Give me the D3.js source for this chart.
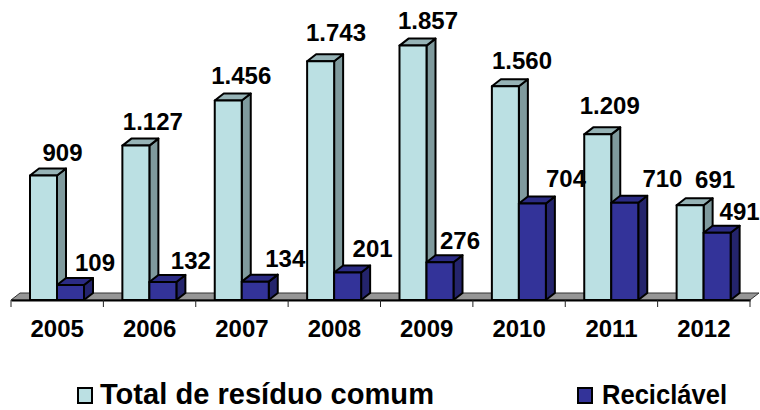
<!DOCTYPE html>
<html>
<head>
<meta charset="utf-8">
<script src="https://cdn.jsdelivr.net/npm/d3@7"></script>
<style>
	body { margin: 0; background: #fff; }
	text { font-family: "Liberation Sans", Arial, sans-serif; font-weight: bold; fill: #000; }
</style>
</head>
<body>
<div id="chart-area"></div>
<script>
// Data
const years = ["2005", "2006", "2007", "2008", "2009", "2010", "2011", "2012"];
const seriesNames = ["Total de resíduo comum", "Reciclável"];
const totalComum = [909, 1127, 1456, 1743, 1857, 1560, 1209, 691];
const reciclavel = [109, 132, 134, 201, 276, 704, 710, 491];

// SVG Size
const width = 760,
	height = 410,
	baseY = 300,
	depthX = 9,
	depthY = 7;

// hand placed data labels in the original: [dx from bar centre, dy above bar top]
const labelNudge = [
	[[19, 14.5], [17, 15.6], [13, 16.5], [15.4, 20], [15, 16.6], [16.6, 17], [12, 20], [25, 17]],
	[[24.5, 14], [28, 13], [30, 14.6], [25, 15.5], [20, 13], [33.6, 16.6], [37.7, 15.7], [22.5, 12.7]]
];

const colors = [
	{ front: "#BBE0E3", side: "#7F9A9D", top: "#96B3B6" },
	{ front: "#333399", side: "#24246C", top: "#2B2B84" }
];

const fmt = d3.formatLocale({ decimal: ",", thousands: ".", grouping: [3], currency: ["", ""] }).format(",d");

const x = d3.scaleBand().domain(years).range([11, 750]);
const inner = d3.scaleBand().domain([0, 1]).range([19, 73]);
const y = d3.scaleLinear().domain([0, 2000]).range([baseY, 26]);

const svg = d3.select("#chart-area")
	.append("svg")
	.attr("width", width)
	.attr("height", height);

// floor of the 3d chart
const x0 = x.range()[0], x1 = x.range()[1];
svg.append("path")
	.attr("d", `M${x0},${baseY}L${x0 + depthX},${baseY - depthY}H${x1 + depthX}L${x1},${baseY}Z`)
	.attr("fill", "#969696")
	.attr("stroke", "#333")
	.attr("stroke-width", 1);

// bars, one group per year
const values = [totalComum, reciclavel];
const bars = [];
years.forEach((yr, i) => values.forEach((v, s) => bars.push({ yr, s, v: v[i], i })));

const bar = svg.selectAll(".bar")
	.data(bars)
	.enter()
	.append("g")
	.attr("class", "bar")
	.attr("stroke", "#000")
	.attr("stroke-width", 2)
	.attr("stroke-linejoin", "round");

const bx = d => x(d.yr) + inner(d.s);
const bw = inner.bandwidth();

bar.append("path")
	.attr("fill", d => colors[d.s].side)
	.attr("d", d => `M${bx(d) + bw},${baseY}V${y(d.v)}l${depthX},${-depthY}V${baseY - depthY}l${-depthX},${depthY}Z`);

bar.append("path")
	.attr("fill", d => colors[d.s].top)
	.attr("d", d => `M${bx(d)},${y(d.v)}l${depthX},${-depthY}h${bw}l${-depthX},${depthY}Z`);

bar.append("rect")
	.attr("x", bx)
	.attr("y", d => y(d.v))
	.attr("width", bw)
	.attr("height", d => baseY - y(d.v))
	.attr("fill", d => colors[d.s].front);

// axis
const xAxis = d3.axisBottom(x).tickSize(0).tickPadding(20);
const axisG = svg.append("g")
	.attr("class", "axis x-axis")
	.attr("transform", "translate(0," + baseY + ")")
	.call(xAxis);
axisG.select(".domain").attr("stroke", "#000").attr("stroke-width", 2);
axisG.selectAll("text").style("font-size", "24px").style("font-family", null);

axisG.selectAll(".edge")
	.data(years.map(d => x(d)).concat([x1]))
	.enter()
	.append("line")
	.attr("class", "edge")
	.attr("x1", d => d)
	.attr("x2", d => d)
	.attr("y1", 0)
	.attr("y2", 7)
	.attr("stroke", "#222");

// value labels
svg.selectAll(".label")
	.data(bars)
	.enter()
	.append("text")
	.attr("class", "label")
	.attr("x", d => bx(d) + bw / 2 + labelNudge[d.s][d.i][0])
	.attr("y", d => y(d.v) - labelNudge[d.s][d.i][1])
	.attr("text-anchor", "middle")
	.style("font-size", "24px")
	.text(d => fmt(d.v));

// legend
const legendX = [78, 578];
const legendFont = ["29px", "28px"];
const textX = [100, 602];
const textW = [334, 125];
seriesNames.forEach((name, s) => {
	svg.append("rect")
		.attr("x", legendX[s])
		.attr("y", 388)
		.attr("width", 14)
		.attr("height", 15)
		.attr("fill", colors[s].front)
		.attr("stroke", "#000")
		.attr("stroke-width", 2);
	svg.append("text")
		.attr("x", textX[s])
		.attr("y", 404)
		.attr("textLength", textW[s])
		.attr("lengthAdjust", "spacingAndGlyphs")
		.style("font-size", legendFont[s])
		.text(name);
});
</script>
</body>
</html>
